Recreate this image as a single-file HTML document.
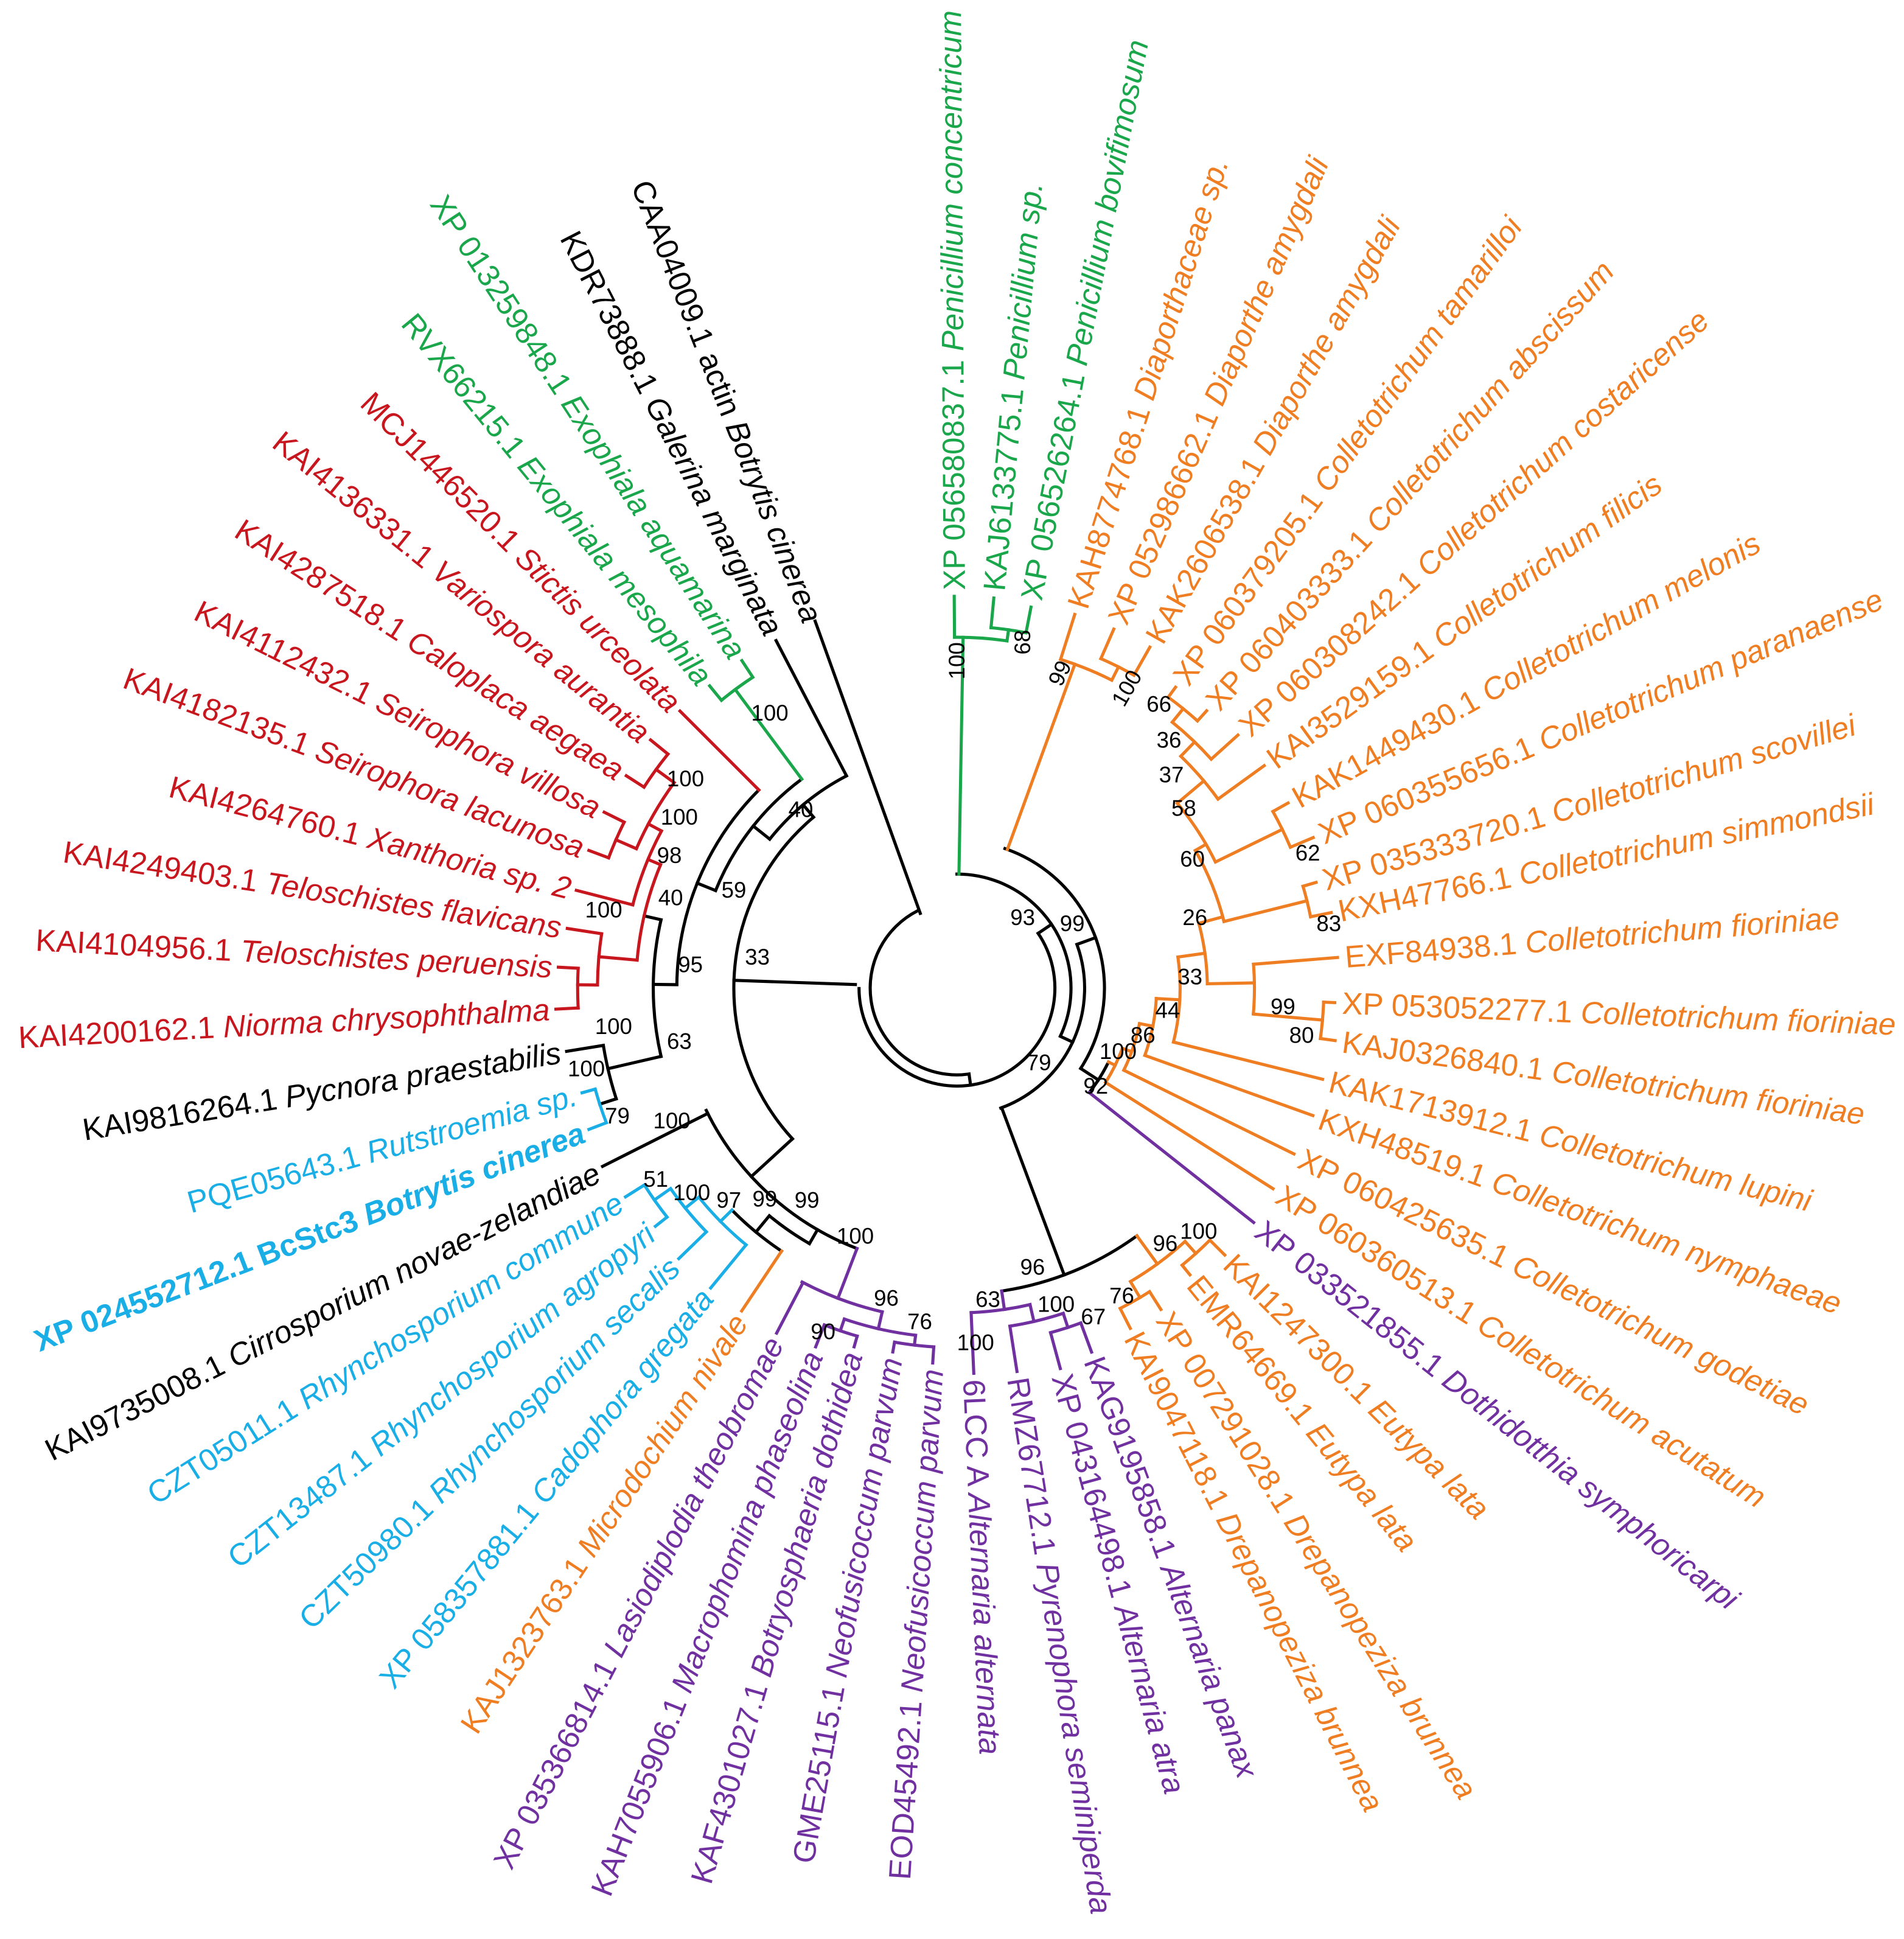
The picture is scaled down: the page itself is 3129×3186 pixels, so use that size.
<!DOCTYPE html>
<html><head><meta charset="utf-8"><style>
html,body{margin:0;padding:0;background:#fff}
svg{display:block}
.lf{font-family:"Liberation Sans",sans-serif;font-size:25px}
.bs{font-family:"Liberation Sans",sans-serif;font-size:18px;fill:#000}
.i{font-style:italic}
</style></head><body>
<svg xmlns="http://www.w3.org/2000/svg" width="3129" height="3186" viewBox="0 0 1536 1564">
<rect width="1536" height="1564" fill="#fff"/>
<g transform="translate(772 797)" fill="none" stroke-width="2.5" stroke-linecap="square">
<g stroke="#000">
<circle r="70" pathLength="360" stroke-dasharray="161 400" transform="rotate(82)"/>
<circle r="79" pathLength="360" stroke-dasharray="214 400" transform="rotate(-34)"/>
<line x1="70" x2="79" transform="rotate(82)"/>
<line x1="82" x2="180" transform="rotate(182)"/>
<circle r="180" pathLength="360" stroke-dasharray="92.5 400" transform="rotate(137.5)"/>
<line x1="180" x2="193" transform="rotate(230)"/>
<circle r="193" pathLength="360" stroke-dasharray="24 400" transform="rotate(218.5)"/>
<line x1="193" x2="316" transform="rotate(242.5)"/>
<line x1="193" x2="210" transform="rotate(218.5)"/>
<circle r="210" pathLength="360" stroke-dasharray="31.4 400" transform="rotate(202)"/>
<line x1="210" x2="226" transform="rotate(202)"/>
<circle r="226" pathLength="360" stroke-dasharray="44.3 400" transform="rotate(180.7)"/>
<line x1="226" x2="245" transform="rotate(180.7)"/>
<circle r="245" pathLength="360" stroke-dasharray="26 400" transform="rotate(167)"/>
<line x1="245" x2="259" transform="rotate(193)"/>
<line x1="245" x2="289" transform="rotate(167)"/>
<circle r="289" pathLength="360" stroke-dasharray="8.8 400" transform="rotate(162)"/>
<line x1="289" x2="319" transform="rotate(170.8)"/>
<line x1="289" x2="303" transform="rotate(162)"/>
<line x1="180" x2="225" transform="rotate(137.5)"/>
<circle r="225" pathLength="360" stroke-dasharray="43 400" transform="rotate(111)"/>
<line x1="225" x2="320" transform="rotate(153.3)"/>
<line x1="225" x2="238" transform="rotate(120)"/>
<circle r="238" pathLength="360" stroke-dasharray="9.5 400" transform="rotate(120)"/>
<line x1="238" x2="255" transform="rotate(129.5)"/>
<circle r="255" pathLength="360" stroke-dasharray="11.7 400" transform="rotate(123.7)"/>
<circle r="92" pathLength="360" stroke-dasharray="115 400" transform="rotate(-90)"/>
<line x1="79" x2="92" transform="rotate(-34)"/>
<line x1="92" x2="103" transform="rotate(25)"/>
<circle r="103" pathLength="360" stroke-dasharray="90 400" transform="rotate(-20)"/>
<line x1="103" x2="119" transform="rotate(-20)"/>
<circle r="119" pathLength="360" stroke-dasharray="104 400" transform="rotate(-71)"/>
<line x1="119" x2="136" transform="rotate(33)"/>
<circle r="136" pathLength="360" stroke-dasharray="12.3 400" transform="rotate(26)"/>
<line x1="103" x2="247" transform="rotate(69.5)"/>
<circle r="247" pathLength="360" stroke-dasharray="27.6 400" transform="rotate(54)"/>
</g>
<line x1="-29.6" y1="-60.3" x2="-114.4" y2="-296" stroke="#000"/>
<g stroke="#1aa64a">
<line x1="92" x2="283" transform="rotate(-89)"/>
<circle r="283" pathLength="360" stroke-dasharray="8.6 400" transform="rotate(-90.4)"/>
<line x1="283" x2="316" transform="rotate(-90.4)"/>
<line x1="283" x2="292" transform="rotate(-81.8)"/>
<circle r="292" pathLength="360" stroke-dasharray="5.6 400" transform="rotate(-84.6)"/>
<line x1="292" x2="316" transform="rotate(-84.6)"/>
<line x1="292" x2="313" transform="rotate(-79)"/>
<line x1="210" x2="300" transform="rotate(233.4)"/>
<circle r="300" pathLength="360" stroke-dasharray="6 400" transform="rotate(230.7)"/>
<line x1="300" x2="315" transform="rotate(230.7)"/>
<line x1="300" x2="316" transform="rotate(236.7)"/>
</g>
<g stroke="#c8161e">
<line x1="226" x2="316" transform="rotate(225)"/>
<circle r="259" pathLength="360" stroke-dasharray="17.6 400" transform="rotate(185)"/>
<line x1="259" x2="290" transform="rotate(185)"/>
<circle r="290" pathLength="360" stroke-dasharray="8.2 400" transform="rotate(180.5)"/>
<line x1="290" x2="318" transform="rotate(188.7)"/>
<line x1="290" x2="306" transform="rotate(180.5)"/>
<circle r="306" pathLength="360" stroke-dasharray="6 400" transform="rotate(177)"/>
<line x1="306" x2="324" transform="rotate(177)"/>
<line x1="306" x2="322" transform="rotate(183)"/>
<line x1="259" x2="270" transform="rotate(202.6)"/>
<circle r="270" pathLength="360" stroke-dasharray="13.6 400" transform="rotate(194.4)"/>
<line x1="270" x2="317" transform="rotate(194.4)"/>
<line x1="270" x2="282" transform="rotate(208)"/>
<circle r="282" pathLength="360" stroke-dasharray="12.5 400" transform="rotate(203.5)"/>
<line x1="282" x2="300" transform="rotate(203.5)"/>
<circle r="300" pathLength="360" stroke-dasharray="6 400" transform="rotate(200.5)"/>
<line x1="300" x2="317" transform="rotate(200.5)"/>
<line x1="300" x2="318" transform="rotate(206.5)"/>
<line x1="282" x2="300" transform="rotate(216)"/>
<circle r="300" pathLength="360" stroke-dasharray="6.3 400" transform="rotate(212.7)"/>
<line x1="300" x2="317" transform="rotate(212.7)"/>
<line x1="300" x2="318" transform="rotate(219)"/>
</g>
<g stroke="#19aee6">
<circle r="303" pathLength="360" stroke-dasharray="5.4 400" transform="rotate(159)"/>
<line x1="303" x2="318" transform="rotate(159)"/>
<line x1="303" x2="314" transform="rotate(164.4)"/>
<line x1="255" x2="268" transform="rotate(135.4)"/>
<circle r="268" pathLength="360" stroke-dasharray="11.6 400" transform="rotate(129.4)"/>
<line x1="268" x2="313" transform="rotate(129.4)"/>
<line x1="268" x2="282" transform="rotate(141)"/>
<circle r="282" pathLength="360" stroke-dasharray="9.2 400" transform="rotate(135.8)"/>
<line x1="282" x2="313" transform="rotate(135.8)"/>
<line x1="282" x2="298" transform="rotate(145)"/>
<circle r="298" pathLength="360" stroke-dasharray="6.1 400" transform="rotate(141.7)"/>
<line x1="298" x2="310" transform="rotate(141.7)"/>
<line x1="298" x2="316" transform="rotate(147.8)"/>
</g>
<g stroke="#ef7d22">
<line x1="255" x2="313" transform="rotate(123.7)"/>
<line x1="247" x2="275" transform="rotate(54)"/>
<circle r="275" pathLength="360" stroke-dasharray="11.4 400" transform="rotate(48)"/>
<line x1="275" x2="288" transform="rotate(48)"/>
<circle r="288" pathLength="360" stroke-dasharray="6 400" transform="rotate(44.9)"/>
<line x1="288" x2="305" transform="rotate(44.9)"/>
<line x1="288" x2="298" transform="rotate(50.9)"/>
<line x1="275" x2="290" transform="rotate(59.4)"/>
<circle r="290" pathLength="360" stroke-dasharray="5.4 400" transform="rotate(57.6)"/>
<line x1="290" x2="307" transform="rotate(57.6)"/>
<line x1="290" x2="308" transform="rotate(63)"/>
<line x1="119" x2="278" transform="rotate(-70)"/>
<circle r="278" pathLength="360" stroke-dasharray="9.2 400" transform="rotate(-72.5)"/>
<line x1="278" x2="316" transform="rotate(-72.5)"/>
<line x1="278" x2="290" transform="rotate(-63.3)"/>
<circle r="290" pathLength="360" stroke-dasharray="5.9 400" transform="rotate(-66.4)"/>
<line x1="290" x2="316" transform="rotate(-66.4)"/>
<line x1="290" x2="316" transform="rotate(-60.5)"/>
<line x1="136" x2="142" transform="rotate(26)"/>
<circle r="142" pathLength="360" stroke-dasharray="12.4 400" transform="rotate(20)"/>
<line x1="142" x2="302" transform="rotate(32.4)"/>
<line x1="142" x2="150" transform="rotate(20)"/>
<circle r="150" pathLength="360" stroke-dasharray="15.2 400" transform="rotate(11)"/>
<line x1="150" x2="303" transform="rotate(26.2)"/>
<line x1="150" x2="161" transform="rotate(11)"/>
<circle r="161" pathLength="360" stroke-dasharray="16.7 400" transform="rotate(3)"/>
<line x1="161" x2="305" transform="rotate(19.7)"/>
<line x1="161" x2="180" transform="rotate(3)"/>
<circle r="180" pathLength="360" stroke-dasharray="22 400" transform="rotate(-8)"/>
<line x1="180" x2="304" transform="rotate(14)"/>
<line x1="180" x2="202" transform="rotate(-8)"/>
<circle r="202" pathLength="360" stroke-dasharray="14 400" transform="rotate(-15)"/>
<line x1="202" x2="240" transform="rotate(-1)"/>
<circle r="240" pathLength="360" stroke-dasharray="9.6 400" transform="rotate(-4.6)"/>
<line x1="240" x2="308" transform="rotate(-4.6)"/>
<line x1="240" x2="296" transform="rotate(5)"/>
<circle r="296" pathLength="360" stroke-dasharray="5.7 400" transform="rotate(2.2)"/>
<line x1="296" x2="305" transform="rotate(2.2)"/>
<line x1="296" x2="308" transform="rotate(7.9)"/>
<line x1="202" x2="222" transform="rotate(-15)"/>
<circle r="222" pathLength="360" stroke-dasharray="16 400" transform="rotate(-30)"/>
<line x1="222" x2="291" transform="rotate(-14)"/>
<circle r="291" pathLength="360" stroke-dasharray="5 400" transform="rotate(-16.4)"/>
<line x1="291" x2="302" transform="rotate(-16.4)"/>
<line x1="291" x2="308" transform="rotate(-11.4)"/>
<line x1="222" x2="232" transform="rotate(-30)"/>
<circle r="232" pathLength="360" stroke-dasharray="14 400" transform="rotate(-40)"/>
<line x1="232" x2="292" transform="rotate(-26)"/>
<circle r="292" pathLength="360" stroke-dasharray="6.3 400" transform="rotate(-29.2)"/>
<line x1="292" x2="306" transform="rotate(-29.2)"/>
<line x1="292" x2="312" transform="rotate(-22.9)"/>
<line x1="232" x2="260" transform="rotate(-40)"/>
<circle r="260" pathLength="360" stroke-dasharray="10.1 400" transform="rotate(-46)"/>
<line x1="260" x2="306" transform="rotate(-35.9)"/>
<line x1="260" x2="276" transform="rotate(-46)"/>
<circle r="276" pathLength="360" stroke-dasharray="9 400" transform="rotate(-51)"/>
<line x1="276" x2="305" transform="rotate(-42)"/>
<line x1="276" x2="290" transform="rotate(-51)"/>
<circle r="290" pathLength="360" stroke-dasharray="6 400" transform="rotate(-54)"/>
<line x1="290" x2="300" transform="rotate(-54)"/>
<line x1="290" x2="301" transform="rotate(-48)"/>
</g>
<g stroke="#7030a0">
<line x1="136" x2="305" transform="rotate(38.3)"/>
<line x1="225" x2="268" transform="rotate(111)"/>
<circle r="268" pathLength="360" stroke-dasharray="14.8 400" transform="rotate(103)"/>
<line x1="268" x2="314" transform="rotate(117.6)"/>
<line x1="268" x2="282" transform="rotate(103)"/>
<circle r="282" pathLength="360" stroke-dasharray="12 400" transform="rotate(96.8)"/>
<line x1="282" x2="292" transform="rotate(108.8)"/>
<circle r="292" pathLength="360" stroke-dasharray="5.5 400" transform="rotate(106)"/>
<line x1="292" x2="301" transform="rotate(106)"/>
<line x1="292" x2="311" transform="rotate(111.5)"/>
<line x1="282" x2="290" transform="rotate(96.8)"/>
<circle r="290" pathLength="360" stroke-dasharray="6.3 400" transform="rotate(93.7)"/>
<line x1="290" x2="303" transform="rotate(93.7)"/>
<line x1="290" x2="298" transform="rotate(100)"/>
<line x1="247" x2="262" transform="rotate(81.6)"/>
<circle r="262" pathLength="360" stroke-dasharray="10.5 400" transform="rotate(77)"/>
<line x1="262" x2="311" transform="rotate(87.5)"/>
<line x1="262" x2="276" transform="rotate(77)"/>
<circle r="276" pathLength="360" stroke-dasharray="9.2 400" transform="rotate(71.9)"/>
<line x1="276" x2="313" transform="rotate(81.1)"/>
<line x1="276" x2="288" transform="rotate(71.9)"/>
<circle r="288" pathLength="360" stroke-dasharray="5.1 400" transform="rotate(69.7)"/>
<line x1="288" x2="313" transform="rotate(69.7)"/>
<line x1="288" x2="318" transform="rotate(74.8)"/>
</g>
</g>

<g transform="translate(772 797)" class="lf">
<g fill="#1aa64a">
<text transform="rotate(-90.4)" x="321" dy=".35em">XP 056580837.1 <tspan class="i">Penicillium concentricum</tspan></text>
<text transform="rotate(-84.7)" x="322" dy=".35em">KAJ6133775.1 <tspan class="i">Penicillium sp.</tspan></text>
<text transform="rotate(-79.2)" x="319" dy=".35em">XP 056526264.1 <tspan class="i">Penicillium bovifimosum</tspan></text>
</g>
<g fill="#ef7d22">
<text transform="rotate(-72.5)" x="322" dy=".35em">KAH8774768.1 <tspan class="i">Diaporthaceae sp.</tspan></text>
<text transform="rotate(-66.4)" x="322" dy=".35em">XP 052986662.1 <tspan class="i">Diaporthe amygdali</tspan></text>
<text transform="rotate(-60.5)" x="322" dy=".35em">KAK2606538.1 <tspan class="i">Diaporthe amygdali</tspan></text>
<text transform="rotate(-54)" x="306" dy=".35em">XP 060379205.1 <tspan class="i">Colletotrichum tamarilloi</tspan></text>
<text transform="rotate(-48)" x="307" dy=".35em">XP 060403333.1 <tspan class="i">Colletotrichum abscissum</tspan></text>
<text transform="rotate(-42)" x="311" dy=".35em">XP 060308242.1 <tspan class="i">Colletotrichum costaricense</tspan></text>
<text transform="rotate(-35.9)" x="312" dy=".35em">KAI3529159.1 <tspan class="i">Colletotrichum filicis</tspan></text>
<text transform="rotate(-29.2)" x="312" dy=".35em">KAK1449430.1 <tspan class="i">Colletotrichum melonis</tspan></text>
<text transform="rotate(-22.9)" x="318" dy=".35em">XP 060355656.1 <tspan class="i">Colletotrichum paranaense</tspan></text>
<text transform="rotate(-16.4)" x="308" dy=".35em">XP 035333720.1 <tspan class="i">Colletotrichum scovillei</tspan></text>
<text transform="rotate(-11.4)" x="314" dy=".35em">KXH47766.1 <tspan class="i">Colletotrichum simmondsii</tspan></text>
<text transform="rotate(-4.6)" x="314" dy=".35em">EXF84938.1 <tspan class="i">Colletotrichum fioriniae</tspan></text>
<text transform="rotate(2.2)" x="311" dy=".35em">XP 053052277.1 <tspan class="i">Colletotrichum fioriniae</tspan></text>
<text transform="rotate(7.9)" x="314" dy=".35em">KAJ0326840.1 <tspan class="i">Colletotrichum fioriniae</tspan></text>
<text transform="rotate(14)" x="310" dy=".35em">KAK1713912.1 <tspan class="i">Colletotrichum lupini</tspan></text>
<text transform="rotate(19.7)" x="311" dy=".35em">KXH48519.1 <tspan class="i">Colletotrichum nymphaeae</tspan></text>
<text transform="rotate(26.2)" x="309" dy=".35em">XP 060425635.1 <tspan class="i">Colletotrichum godetiae</tspan></text>
<text transform="rotate(32.4)" x="308" dy=".35em">XP 060360513.1 <tspan class="i">Colletotrichum acutatum</tspan></text>
<text transform="rotate(44.9)" x="310" dy=".35em">KAI1247300.1 <tspan class="i">Eutypa lata</tspan></text>
<text transform="rotate(50.9)" x="303" dy=".35em">EMR64669.1 <tspan class="i">Eutypa lata</tspan></text>
<text transform="rotate(57.6)" x="312" dy=".35em">XP 007291028.1 <tspan class="i">Drepanopeziza brunnea</tspan></text>
<text transform="rotate(63)" x="313" dy=".35em">KAI9047118.1 <tspan class="i">Drepanopeziza brunnea</tspan></text>
<text transform="rotate(-56.6)" x="-318" text-anchor="end" dy=".35em">KAJ1323763.1 <tspan class="i">Microdochium nivale</tspan></text>
</g>
<g fill="#7030a0">
<text transform="rotate(38.3)" x="311" dy=".35em">XP 033521855.1 <tspan class="i">Dothidotthia symphoricarpi</tspan></text>
<text transform="rotate(69.7)" x="318" dy=".35em">KAG9195858.1 <tspan class="i">Alternaria panax</tspan></text>
<text transform="rotate(74.8)" x="323" dy=".35em">XP 043164498.1 <tspan class="i">Alternaria atra</tspan></text>
<text transform="rotate(81.1)" x="318" dy=".35em">RMZ67712.1 <tspan class="i">Pyrenophora seminiperda</tspan></text>
<text transform="rotate(87.5)" x="316" dy=".35em">6LCC A <tspan class="i">Alternaria alternata</tspan></text>
<text transform="rotate(-86.3)" x="-308" text-anchor="end" dy=".35em">EOD45492.1 <tspan class="i">Neofusicoccum parvum</tspan></text>
<text transform="rotate(-80)" x="-303" text-anchor="end" dy=".35em">GME25115.1 <tspan class="i">Neofusicoccum parvum</tspan></text>
<text transform="rotate(-74)" x="-306" text-anchor="end" dy=".35em">KAF4301027.1 <tspan class="i">Botryosphaeria dothidea</tspan></text>
<text transform="rotate(-68.5)" x="-316" text-anchor="end" dy=".35em">KAH7055906.1 <tspan class="i">Macrophomina phaseolina</tspan></text>
<text transform="rotate(-62.6)" x="-319" text-anchor="end" dy=".35em">XP 035366814.1 <tspan class="i">Lasiodiplodia theobromae</tspan></text>
</g>
<g fill="#19aee6">
<text transform="rotate(-50.6)" x="-318" text-anchor="end" dy=".35em">XP 058357881.1 <tspan class="i">Cadophora gregata</tspan></text>
<text transform="rotate(-44.2)" x="-318" text-anchor="end" dy=".35em">CZT50980.1 <tspan class="i">Rhynchosporium secalis</tspan></text>
<text transform="rotate(-38.3)" x="-315" text-anchor="end" dy=".35em">CZT13487.1 <tspan class="i">Rhynchosporium agropyri</tspan></text>
<text transform="rotate(-32.2)" x="-321" text-anchor="end" dy=".35em">CZT05011.1 <tspan class="i">Rhynchosporium commune</tspan></text>
<text transform="rotate(-21)" x="-323" text-anchor="end" dy=".35em" font-weight="bold">XP 024552712.1 BcStc3 <tspan class="i">Botrytis cinerea</tspan></text>
<text transform="rotate(-15.6)" x="-319" text-anchor="end" dy=".35em">PQE05643.1 <tspan class="i">Rutstroemia sp.</tspan></text>
</g>
<g fill="#000">
<text transform="rotate(-27)" x="-325" text-anchor="end" dy=".35em">KAI9735008.1 <tspan class="i">Cirrosporium novae-zelandiae</tspan></text>
<text transform="rotate(-9.2)" x="-324" text-anchor="end" dy=".35em">KAI9816264.1 <tspan class="i">Pycnora praestabilis</tspan></text>
<text transform="rotate(62.8)" x="-322" text-anchor="end" dy=".35em">KDR73888.1 <tspan class="i">Galerina marginata</tspan></text>
<text transform="rotate(68.6)" x="-318" text-anchor="end" dy=".35em">CAA04009.1 actin <tspan class="i">Botrytis cinerea</tspan></text>
</g>
<g fill="#c8161e">
<text transform="rotate(-3)" x="-329" text-anchor="end" dy=".35em">KAI4200162.1 <tspan class="i">Niorma chrysophthalma</tspan></text>
<text transform="rotate(3)" x="-327" text-anchor="end" dy=".35em">KAI4104956.1 <tspan class="i">Teloschistes peruensis</tspan></text>
<text transform="rotate(8.7)" x="-323" text-anchor="end" dy=".35em">KAI4249403.1 <tspan class="i">Teloschistes flavicans</tspan></text>
<text transform="rotate(14.4)" x="-322" text-anchor="end" dy=".35em">KAI4264760.1 <tspan class="i">Xanthoria sp. 2</tspan></text>
<text transform="rotate(20.5)" x="-322" text-anchor="end" dy=".35em">KAI4182135.1 <tspan class="i">Seirophora lacunosa</tspan></text>
<text transform="rotate(26.5)" x="-323" text-anchor="end" dy=".35em">KAI4112432.1 <tspan class="i">Seirophora villosa</tspan></text>
<text transform="rotate(32.7)" x="-322" text-anchor="end" dy=".35em">KAI4287518.1 <tspan class="i">Caloplaca aegaea</tspan></text>
<text transform="rotate(39)" x="-323" text-anchor="end" dy=".35em">KAI4136331.1 <tspan class="i">Variospora aurantia</tspan></text>
<text transform="rotate(45)" x="-321" text-anchor="end" dy=".35em">MCJ1446520.1 <tspan class="i">Stictis urceolata</tspan></text>
</g>
<g fill="#1aa64a">
<text transform="rotate(50.7)" x="-320" text-anchor="end" dy=".35em">RVX66215.1 <tspan class="i">Exophiala mesophila</tspan></text>
<text transform="rotate(56.7)" x="-321" text-anchor="end" dy=".35em">XP 013259848.1 <tspan class="i">Exophiala aquamarina</tspan></text>
</g>
</g>

<g class="bs" text-anchor="middle" dominant-baseline="central">
<text x="772" y="533" transform="rotate(-90 772 533)">100</text>
<text x="825" y="518" transform="rotate(-90 825 518)">68</text>
<text x="855" y="543" transform="rotate(-65 855 543)">99</text>
<text x="909" y="555" transform="rotate(-60 909 555)">100</text>
<text x="935" y="568">66</text>
<text x="943" y="597">36</text>
<text x="945" y="625">37</text>
<text x="955" y="652">58</text>
<text x="1055" y="688">62</text>
<text x="962" y="693">60</text>
<text x="1072" y="745">83</text>
<text x="964" y="740">26</text>
<text x="960" y="788">33</text>
<text x="1035" y="812">99</text>
<text x="1050" y="835">80</text>
<text x="942" y="815">44</text>
<text x="922" y="835">86</text>
<text x="902" y="848">100</text>
<text x="884" y="876">92</text>
<text x="838" y="857">79</text>
<text x="825" y="740">93</text>
<text x="865" y="745">99</text>
<text x="611" y="772">33</text>
<text x="646" y="653">40</text>
<text x="592" y="718">59</text>
<text x="621" y="575">100</text>
<text x="553" y="628">100</text>
<text x="548" y="659">100</text>
<text x="540" y="690">98</text>
<text x="541" y="724">40</text>
<text x="557" y="778">95</text>
<text x="487" y="734">100</text>
<text x="495" y="828">100</text>
<text x="548" y="840">63</text>
<text x="473" y="862">100</text>
<text x="498" y="900">79</text>
<text x="542" y="904">100</text>
<text x="529" y="951">51</text>
<text x="558" y="962">100</text>
<text x="588" y="968">97</text>
<text x="617" y="967">99</text>
<text x="651" y="968">99</text>
<text x="690" y="997">100</text>
<text x="715" y="1047">96</text>
<text x="664" y="1074">90</text>
<text x="742" y="1066">76</text>
<text x="833" y="1022">96</text>
<text x="797" y="1048">63</text>
<text x="852" y="1052">100</text>
<text x="882" y="1062">67</text>
<text x="787" y="1083">100</text>
<text x="940" y="1003">96</text>
<text x="967" y="993">100</text>
<text x="905" y="1045">76</text>
</g>
</svg>
</body></html>
